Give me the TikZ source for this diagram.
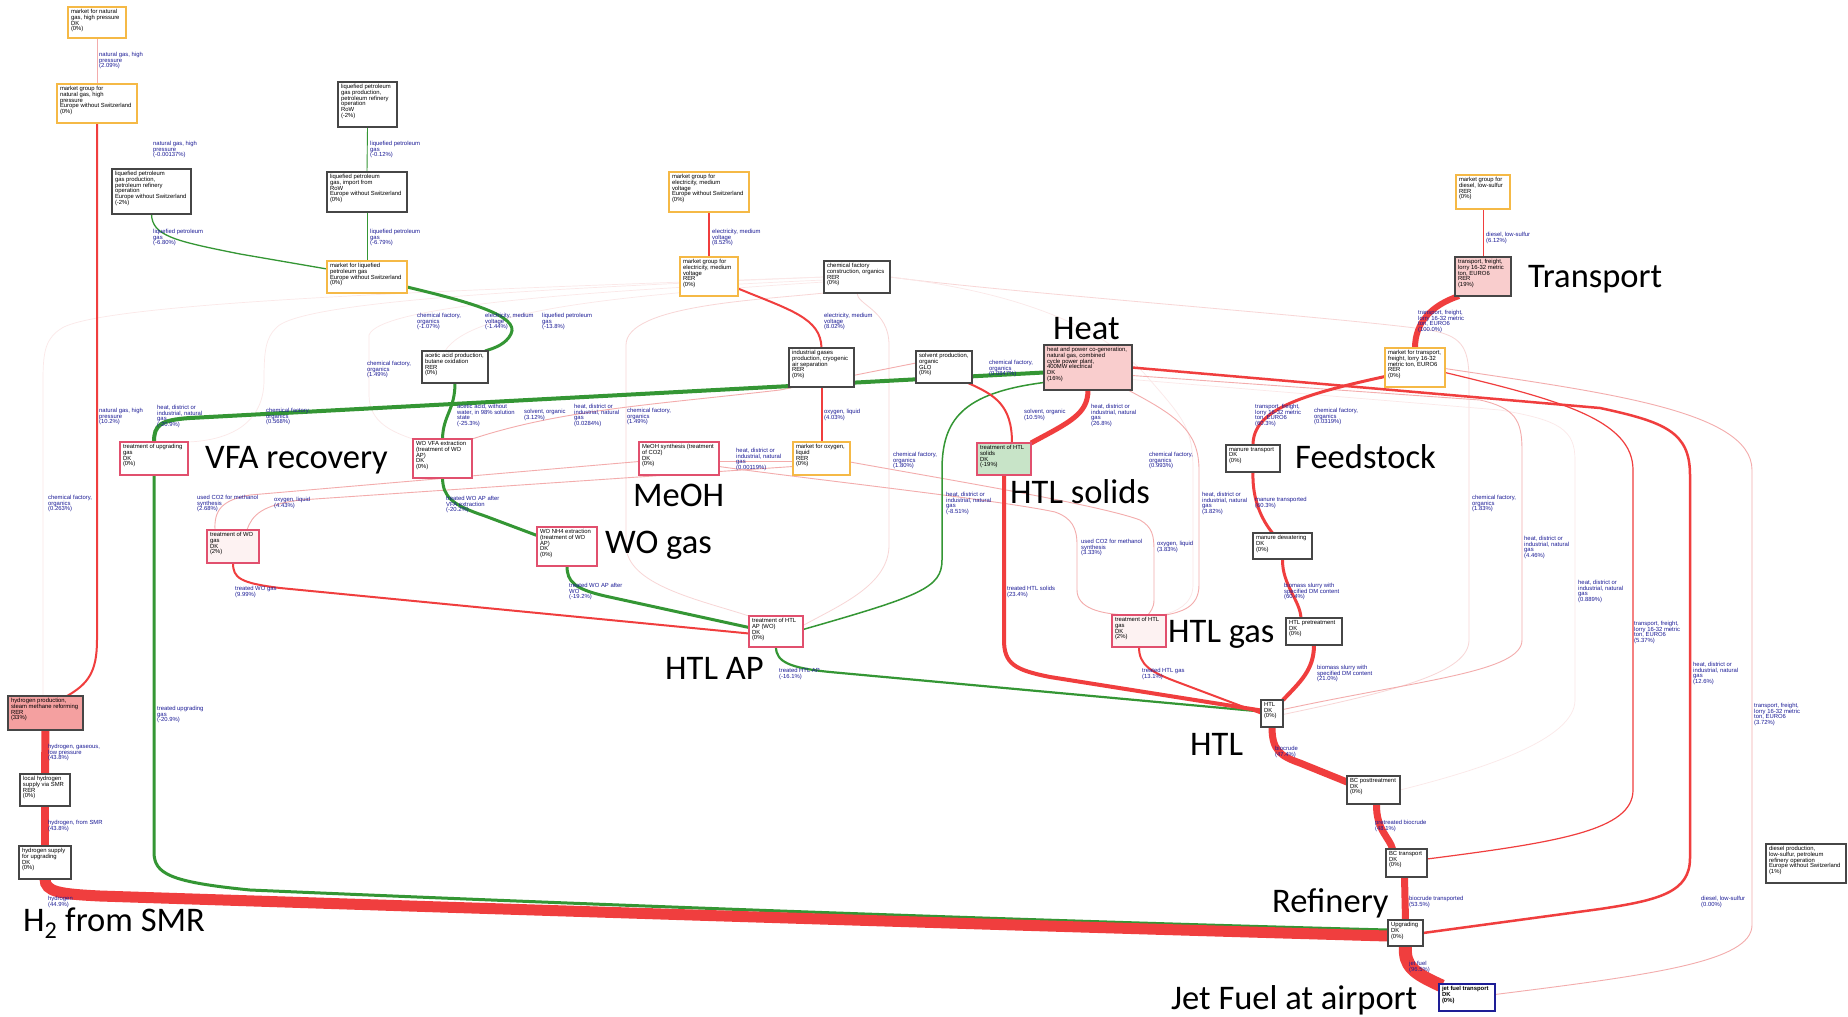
\documentclass[tikz,border=0pt]{standalone}
\usepackage{fontspec}
\setmainfont{Liberation Sans}
\newfontfamily\bigfont{Carlito}
\pgfdeclarelayer{bg}
\pgfsetlayers{bg,main}
\definecolor{ored}{RGB}{240,62,62}
\definecolor{ogreen}{RGB}{52,150,52}
\definecolor{opink}{RGB}{243,172,172}
\definecolor{ofaint}{RGB}{251,232,232}
\definecolor{ofaintp}{RGB}{248,214,214}
\definecolor{oorange}{RGB}{245,185,70}
\definecolor{obord}{RGB}{70,70,70}
\definecolor{ocrim}{RGB}{225,80,110}
\definecolor{osalmon}{RGB}{244,160,160}
\definecolor{olpink}{RGB}{249,205,205}
\definecolor{olgreen}{RGB}{200,228,200}
\definecolor{opale}{RGB}{253,242,242}
\definecolor{olbl}{RGB}{28,28,150}
\definecolor{ojet}{RGB}{30,30,150}
\tikzset{
  bt/.style={font=\fontsize{5.9}{5.7}\selectfont, align=left, inner sep=0pt, anchor=north west, text=black},
  lb/.style={font=\fontsize{5.9}{5.7}\selectfont, align=left, inner sep=0pt, anchor=north west, text=olbl},
  big/.style={font=\bigfont\fontsize{34.5}{36}\selectfont, inner sep=0pt, anchor=base west},
  bxK/.style={draw=obord, line width=1.2pt, fill=white},
  bxO/.style={draw=oorange, line width=1.1pt, fill=white},
  bxP/.style={draw=ocrim, line width=1.1pt, fill=white},
  bxPf/.style={draw=ocrim, line width=1.1pt, fill=opale},
  bxT/.style={draw=obord, line width=1.2pt, fill=olpink},
  bxH/.style={draw=obord, line width=1.2pt, fill=osalmon},
  bxG/.style={draw=ocrim, line width=1.1pt, fill=olgreen},
  bxJ/.style={draw=ojet, line width=1.8pt, fill=white},
  redl/.style={draw=ored},
  grnl/.style={draw=ogreen},
  pinkl/.style={draw=opink, line width=0.9pt},
  fnt/.style={draw=ofaint, line width=0.7pt},
  fntp/.style={draw=ofaintp, line width=0.8pt}
}
\newcommand\mybox[7]{%
  \node[#6, anchor=north west, minimum width={(#4-#2)*1pt}, minimum height={(#5-#3)*1pt}, inner sep=0pt, outer sep=0pt] (#1) at (#2,#3) {};
  \node[bt] (#1t) at ([xshift=2.8pt,yshift=-2.2pt]#1.north west) {#7};}
\begin{document}
\begin{tikzpicture}[x=1pt,y=-1pt]
\useasboundingbox (0,0) rectangle (1848,1017);
% ---------- boxes
\mybox{ngm}{68}{7}{126}{38}{bxO}{market for natural\\gas, high pressure\\DK\\(0\%)}
\mybox{ngg}{57}{84}{137}{123}{bxO}{market group for\\natural gas, high\\pressure\\Europe without Switzerland\\(0\%)}
\mybox{lpgrow}{338}{82}{397}{127}{bxK}{liquefied petroleum\\gas production,\\petroleum refinery\\operation\\RoW\\(-2\%)}
\mybox{lpgimp}{327}{172}{407}{212}{bxK}{liquefied petroleum\\gas, import from\\RoW\\Europe without Switzerland\\(0\%)}
\mybox{lpgmkt}{327}{261}{407}{293}{bxO}{market for liquefied\\petroleum gas\\Europe without Switzerland\\(0\%)}
\mybox{lpgeu}{112}{169}{191}{214}{bxK}{liquefied petroleum\\gas production,\\petroleum refinery\\operation\\Europe without Switzerland\\(-2\%)}
\mybox{elEU}{669}{172}{749}{212}{bxO}{market group for\\electricity, medium\\voltage\\Europe without Switzerland\\(0\%)}
\mybox{elRER}{680}{257}{738}{296}{bxO}{market group for\\electricity, medium\\voltage\\RER\\(0\%)}
\mybox{chemfac}{824}{261}{890}{293}{bxK}{chemical factory\\construction, organics\\RER\\(0\%)}
\mybox{diesel}{1456}{175}{1510}{209}{bxO}{market group for\\diesel, low-sulfur\\RER\\(0\%)}
\mybox{transp}{1455}{257}{1511}{296}{bxT}{transport, freight,\\lorry 16-32 metric\\ton, EURO6\\RER\\(19\%)}
\mybox{acetic}{422}{351}{488}{383}{bxK}{acetic acid production,\\butane oxidation\\RER\\(0\%)}
\mybox{indgas}{789}{348}{854}{387}{bxK}{industrial gases\\production, cryogenic\\air separation\\RER\\(0\%)}
\mybox{solvent}{916}{351}{972}{383}{bxK}{solvent production,\\organic\\GLO\\(0\%)}
\mybox{heat}{1044}{345}{1132}{390}{bxT}{heat and power co-generation,\\natural gas, combined\\cycle power plant,\\400MW electrical\\DK\\(16\%)}
\mybox{mkttr}{1385}{348}{1445}{387}{bxO}{market for transport,\\freight, lorry 16-32\\metric ton, EURO6\\RER\\(0\%)}
\mybox{upgas}{120}{442}{188}{475}{bxP}{treatment of upgrading\\gas\\DK\\(0\%)}
\mybox{wovfa}{413}{439}{472}{478}{bxP}{WO VFA extraction\\(treatment of WO\\AP)\\DK\\(0\%)}
\mybox{meoh}{639}{442}{719}{475}{bxP}{MeOH synthesis (treatment\\of CO2)\\DK\\(0\%)}
\mybox{oxy}{793}{442}{850}{475}{bxO}{market for oxygen,\\liquid\\RER\\(0\%)}
\mybox{htls}{977}{443}{1031}{475}{bxG}{treatment of HTL\\solids\\DK\\(-19\%)}
\mybox{manure}{1226}{445}{1280}{472}{bxK}{manure transport\\DK\\(0\%)}
\mybox{wogas}{207}{530}{259}{563}{bxPf}{treatment of WO\\gas\\DK\\(2\%)}
\mybox{wonh4}{537}{527}{597}{566}{bxP}{WO NH4 extraction\\(treatment of WO\\AP)\\DK\\(0\%)}
\mybox{dewat}{1253}{533}{1312}{559}{bxK}{manure dewatering\\DK\\(0\%)}
\mybox{htlap}{749}{616}{803}{647}{bxP}{treatment of HTL\\AP (WO)\\DK\\(0\%)}
\mybox{htlgas}{1112}{615}{1166}{647}{bxPf}{treatment of HTL\\gas\\DK\\(2\%)}
\mybox{pretr}{1286}{618}{1342}{645}{bxK}{HTL pretreatment\\DK\\(0\%)}
\mybox{h2prod}{8}{696}{83}{730}{bxH}{hydrogen production,\\steam methane reforming\\RER\\(33\%)}
\mybox{htl}{1261}{700}{1283}{727}{bxK}{HTL\\DK\\(0\%)}
\mybox{bcpost}{1347}{776}{1400}{804}{bxK}{BC posttreatment\\DK\\(0\%)}
\mybox{h2loc}{20}{774}{70}{806}{bxK}{local hydrogen\\supply via SMR\\RER\\(0\%)}
\mybox{h2sup}{19}{846}{71}{879}{bxK}{hydrogen supply\\for upgrading\\DK\\(0\%)}
\mybox{bctr}{1386}{849}{1427}{877}{bxK}{BC transport\\DK\\(0\%)}
\mybox{dieselp}{1766}{844}{1846}{883}{bxK}{diesel production,\\low-sulfur, petroleum\\refinery operation\\Europe without Switzerland\\(1\%)}
\mybox{upg}{1388}{920}{1423}{946}{bxK}{Upgrading\\DK\\(0\%)}
\mybox{jet}{1439}{984}{1495}{1011}{bxJ}{\textbf{jet fuel transport}\\\textbf{DK}\\\textbf{(0\%)}}
% ---------- edge labels
\node[lb] (l01) at (99,52) {natural gas, high\\pressure\\(2.09\%)};
\node[lb] (l02) at (153,141) {natural gas, high\\pressure\\(-0.00137\%)};
\node[lb] (l03) at (370,141) {liquefied petroleum\\gas\\(-0.12\%)};
\node[lb] (l04) at (153,229) {liquefied petroleum\\gas\\(-6.80\%)};
\node[lb] (l05) at (370,229) {liquefied petroleum\\gas\\(-6.79\%)};
\node[lb] (l06) at (417,313) {chemical factory,\\organics\\(-1.07\%)};
\node[lb] (l07) at (712,229) {electricity, medium\\voltage\\(8.52\%)};
\node[lb] (l08) at (485,313) {electricity, medium\\voltage\\(-1.44\%)};
\node[lb] (l09) at (542,313) {liquefied petroleum\\gas\\(-13.8\%)};
\node[lb] (l10) at (824,313) {electricity, medium\\voltage\\(8.02\%)};
\node[lb] (l11) at (1486,232) {diesel, low-sulfur\\(6.12\%)};
\node[lb] (l12) at (1418,310) {transport, freight,\\lorry 16-32 metric\\ton, EURO6\\(100.0\%)};
\node[lb] (l13) at (367,361) {chemical factory,\\organics\\(1.49\%)};
\node[lb] (l14) at (99,408) {natural gas, high\\pressure\\(10.2\%)};
\node[lb] (l15) at (157,405) {heat, district or\\industrial, natural\\gas\\(-20.9\%)};
\node[lb] (l16) at (266,408) {chemical factory,\\organics\\(0.568\%)};
\node[lb] (l17) at (457,404) {acetic acid, without\\water, in 98\% solution\\state\\(-25.3\%)};
\node[lb] (l18) at (48,495) {chemical factory,\\organics\\(0.263\%)};
\node[lb] (l19) at (197,495) {used CO2 for methanol\\synthesis\\(2.68\%)};
\node[lb] (l20) at (274,497) {oxygen, liquid\\(4.43\%)};
\node[lb] (l21) at (235,586) {treated WO gas\\(9.99\%)};
\node[lb] (l22) at (446,496) {treated WO AP after\\VFA extraction\\(-20.2\%)};
\node[lb] (l23) at (524,409) {solvent, organic\\(3.12\%)};
\node[lb] (l24) at (574,404) {heat, district or\\industrial, natural\\gas\\(0.0284\%)};
\node[lb] (l25) at (627,408) {chemical factory,\\organics\\(1.49\%)};
\node[lb] (l26) at (824,409) {oxygen, liquid\\(4.03\%)};
\node[lb] (l27) at (736,448) {heat, district or\\industrial, natural\\gas\\(0.00119\%)};
\node[lb] (l28) at (893,452) {chemical factory,\\organics\\(1.80\%)};
\node[lb] (l29) at (569,583) {treated WO AP after\\WO\\(-19.2\%)};
\node[lb] (l30) at (779,668) {treated HTL AP\\(-16.1\%)};
\node[lb] (l31) at (989,360) {chemical factory,\\organics\\(0.0847\%)};
\node[lb] (l32) at (1024,409) {solvent, organic\\(10.5\%)};
\node[lb] (l33) at (1091,404) {heat, district or\\industrial, natural\\gas\\(26.8\%)};
\node[lb] (l34) at (1149,452) {chemical factory,\\organics\\(0.993\%)};
\node[lb] (l35) at (946,492) {heat, district or\\industrial, natural\\gas\\(-8.51\%)};
\node[lb] (l36) at (1202,492) {heat, district or\\industrial, natural\\gas\\(3.82\%)};
\node[lb] (l37) at (1255,404) {transport, freight,\\lorry 16-32 metric\\ton, EURO6\\(60.3\%)};
\node[lb] (l38) at (1314,408) {chemical factory,\\organics\\(0.0319\%)};
\node[lb] (l39) at (1255,497) {manure transported\\(60.3\%)};
\node[lb] (l40) at (1081,539) {used CO2 for methanol\\synthesis\\(3.33\%)};
\node[lb] (l41) at (1157,541) {oxygen, liquid\\(3.83\%)};
\node[lb] (l42) at (1007,586) {treated HTL solids\\(23.4\%)};
\node[lb] (l43) at (1284,583) {biomass slurry with\\specified DM content\\(60.4\%)};
\node[lb] (l44) at (1142,668) {treated HTL gas\\(13.1\%)};
\node[lb] (l45) at (1317,665) {biomass slurry with\\specified DM content\\(21.0\%)};
\node[lb] (l46) at (1472,495) {chemical factory,\\organics\\(1.83\%)};
\node[lb] (l47) at (1524,536) {heat, district or\\industrial, natural\\gas\\(4.46\%)};
\node[lb] (l48) at (1578,580) {heat, district or\\industrial, natural\\gas\\(0.889\%)};
\node[lb] (l49) at (1634,621) {transport, freight,\\lorry 16-32 metric\\ton, EURO6\\(5.37\%)};
\node[lb] (l50) at (1693,662) {heat, district or\\industrial, natural\\gas\\(12.6\%)};
\node[lb] (l51) at (1754,703) {transport, freight,\\lorry 16-32 metric\\ton, EURO6\\(3.72\%)};
\node[lb] (l52) at (1275,746) {biocrude\\(47.4\%)};
\node[lb] (l53) at (1375,820) {pretreated biocrude\\(48.1\%)};
\node[lb] (l54) at (1409,896) {biocrude transported\\(53.5\%)};
\node[lb] (l55) at (1409,961) {jet fuel\\(96.5\%)};
\node[lb] (l56) at (1701,896) {diesel, low-sulfur\\(0.00\%)};
\node[lb] (l57) at (157,706) {treated upgrading\\gas\\(-20.9\%)};
\node[lb] (l58) at (48,744) {hydrogen, gaseous,\\low pressure\\(43.8\%)};
\node[lb] (l59) at (48,820) {hydrogen, from SMR\\(43.8\%)};
\node[lb] (l60) at (48,896) {hydrogen\\(44.9\%)};
% ---------- big annotations
\node[big] (tVFA) at (205,468) {VFA recovery};
\node[big] (tMeOH) at (633,506) {MeOH};
\node[big] (tWO) at (605,553) {WO gas};
\node[big] (tHTLAP) at (665,679) {HTL AP};
\node[big] (tHTLs) at (1010,503) {HTL solids};
\node[big] (tHTLg) at (1168,642) {HTL gas};
\node[big] (tFeed) at (1295,468) {Feedstock};
\node[big] (tHeat) at (1053,339) {Heat};
\node[big] (tTrans) at (1528,287) {Transport};
\node[big] (tHTL) at (1190,755) {HTL};
\node[big] (tRef) at (1272,912) {Refinery};
\node[big] (tJet) at (1171,1009) {Jet Fuel at airport};
\node[big] (tH2) at (23,931) {H\textsubscript{2} from SMR};
% ---------- connectors
\begin{pgfonlayer}{bg}
\fill[white] (0,0) rectangle (1848,1017);
% faint lines
\draw[fnt] (chemfac.west) .. controls (520,288) and (110,300) .. (62,328) .. controls (46,338) and (43,350) .. (43,380) -- ([xshift=-2.5pt]h2prod.north);
\draw[fnt] (chemfac.west) .. controls (560,288) and (300,300) .. (276,328) .. controls (266,338) and (264,350) .. (264,380) .. controls (264,420) and (235,440) .. (upgas.north east);
\draw[fnt] ([yshift=-3pt]chemfac.west) .. controls (600,290) and (380,305) .. (369,335) -- (369,395) .. controls (369,422) and (392,432) .. (wovfa.north west);
\draw[fnt] ([yshift=-5pt]chemfac.west) .. controls (620,295) and (470,310) .. ([xshift=-10pt]acetic.north);
\draw[fntp] (chemfac.south west) .. controls (760,300) and (626,305) .. (626,345) -- (626,545) .. controls (626,585) and (700,600) .. (htlap.north west);
\draw[fntp] (chemfac.south) .. controls (857,305) and (889,310) .. (889,345) -- (889,545) .. controls (889,585) and (840,605) .. ([yshift=6pt]htlap.east);
\draw[fntp] (chemfac.east) .. controls (1000,292) and (1350,318) .. (1430,330) .. controls (1460,336) and (1469,345) .. (1469,380) -- (1469,640) .. controls (1469,672) and (1400,690) .. ([yshift=-1pt]htl.east);
\draw[fnt] (chemfac.east) .. controls (1000,290) and (1100,320) .. (1150,380) .. controls (1185,420) and (1193,430) .. (1193,470) -- (1193,585) .. controls (1193,605) and (1175,612) .. ([xshift=-4pt]htlgas.north east);
\draw[fnt] ([yshift=-12pt]heat.east) -- (1500,410) .. controls (1560,420) and (1575,430) .. (1575,460) -- (1575,700) .. controls (1575,740) and (1480,770) .. (bcpost.east);
% pink lines
\draw[pinkl] (ngm.south) -- (ngg.north);
\draw[pinkl] ([yshift=-8pt]heat.east) -- (1480,400) .. controls (1515,408) and (1522,420) .. (1522,450) -- (1522,640) .. controls (1522,672) and (1420,680) .. ([yshift=4pt]htl.east);
\draw[pinkl] ([yshift=-1pt]mkttr.east) .. controls (1600,392) and (1752,410) .. (1752,470) -- (1752,925) .. controls (1752,962) and (1650,975) .. ([yshift=3pt]jet.east);
\draw[pinkl] ([xshift=-4pt]heat.south east) .. controls (1175,415) and (1199,430) .. (1199,470) -- (1199,585) .. controls (1199,608) and (1180,612) .. (htlgas.north east);
\draw[pinkl] ([yshift=-3.5pt]oxy.east) .. controls (950,480) and (1100,505) .. (1140,520) .. controls (1152,527) and (1154,535) .. (1154,550) -- (1154,600) .. controls (1154,608) and (1150,612) .. ([xshift=9pt]htlgas.north);
\draw[pinkl] ([yshift=-8pt]meoh.east) .. controls (800,478) and (1000,500) .. (1055,512) .. controls (1072,518) and (1077,528) .. (1077,545) -- (1077,590) .. controls (1077,608) and (1100,614) .. ([xshift=-12pt]htlgas.north);
\draw[pinkl] ([yshift=-3pt]meoh.east) -- ([yshift=-3pt]oxy.west);
\draw[pinkl] ([xshift=-18pt]wogas.north) .. controls (214,510) and (222,500) .. (250,495) -- ([yshift=-3pt]meoh.west);
\draw[pinkl] ([xshift=14pt]wogas.north) .. controls (252,515) and (262,505) .. (300,500) -- ([yshift=-8pt]oxy.west);
\draw[pinkl] ([yshift=4pt]solvent.west) -- (780,390) .. controls (650,405) and (560,410) .. (wovfa.north east);
% green lines
\draw[grnl, line width=0.9pt] (lpgrow.south) -- (lpgimp.north);
\draw[grnl, line width=0.9pt] (lpgimp.south) -- (lpgmkt.north);
\draw[grnl, line width=1.3pt] (lpgeu.south) .. controls (152,236) and (175,241) .. (240,254) -- ([yshift=8pt]lpgmkt.west);
\draw[grnl, line width=3pt] ([yshift=-10pt]lpgmkt.east) .. controls (470,302) and (520,316) .. (511,334) .. controls (506,344) and (495,348) .. ([xshift=-3pt]acetic.north east);
\draw[grnl, line width=3pt] (acetic.south) .. controls (455,410) and (443,415) .. (wovfa.north);
\draw[grnl, line width=3pt] (wovfa.south) .. controls (443,497) and (452,505) .. (485,516) -- ([yshift=11pt]wonh4.west);
\draw[grnl, line width=3pt] (wonh4.south) .. controls (567,582) and (575,589) .. (605,596) -- ([yshift=4pt]htlap.west);
\draw[grnl, line width=2.2pt] (htlap.south) .. controls (776,662) and (790,668) .. (830,672) -- ([yshift=2pt]htl.west);
\draw[grnl, line width=4pt] (upgas.north) .. controls (154,425) and (160,420) .. (190,418) -- ([yshift=-5pt]heat.west);
\draw[grnl, line width=3pt] (upgas.south) -- (154,852) .. controls (154,874) and (170,882) .. (250,890) .. controls (600,905) and (1000,920) .. ([yshift=3pt]upg.west);
\draw[grnl, line width=1.5pt] ([yshift=-15pt]heat.west) .. controls (962,393) and (942,420) .. (942,470) -- (942,560) .. controls (942,588) and (920,596) .. ([yshift=2pt]htlap.east);
% red lines
\draw[redl, line width=2pt] (ngg.south) -- (97,640) .. controls (97,672) and (88,684) .. ([xshift=21.5pt]h2prod.north);
\draw[redl, line width=8pt] (h2prod.south) -- (h2loc.north);
\draw[redl, line width=8pt] (h2loc.south) -- (h2sup.north);
\draw[redl, line width=11pt] (h2sup.south) .. controls (45,892) and (60,894) .. (100,896) .. controls (500,909) and (1000,925) .. ([yshift=-3pt]upg.west);
\draw[redl, line width=2pt] (elEU.south) -- (elRER.north);
\draw[redl, line width=2pt] ([yshift=-12pt]elRER.east) .. controls (790,310) and (821,318) .. (indgas.north);
\draw[redl, line width=2pt] (indgas.south) -- (oxy.north);
\draw[redl, line width=5pt] (heat.south) .. controls (1088,414) and (1070,422) .. (htls.north east);
\draw[redl, line width=2pt] ([xshift=-4pt]solvent.south east) .. controls (995,395) and (1012,405) .. ([xshift=8pt]htls.north);
\draw[redl, line width=4pt] (htls.south) -- (1004,640) .. controls (1004,664) and (1015,670) .. (1050,677) -- ([yshift=3pt]htl.west);
\draw[redl, line width=2pt] (wogas.south) .. controls (233,578) and (240,583) .. (280,588) -- ([yshift=-2pt]htlap.west);
\draw[redl, line width=2pt] (htlgas.south) .. controls (1139,665) and (1150,672) .. (1180,683) -- (htl.west);
\draw[redl, line width=4pt] (pretr.south) .. controls (1314,670) and (1300,682) .. (htl.north east);
\draw[redl, line width=3pt] (dewat.south) .. controls (1282,585) and (1300,600) .. ([xshift=-13pt]pretr.north);
\draw[redl, line width=3pt] (manure.south) .. controls (1252,500) and (1262,520) .. ([xshift=-10pt]dewat.north);
\draw[redl, line width=3pt] ([yshift=-9pt]mkttr.west) .. controls (1300,395) and (1253,410) .. (manure.north);
\draw[redl, line width=6pt] ([xshift=4pt]transp.south west) .. controls (1432,305) and (1415,322) .. (mkttr.north);
\draw[redl, line width=1pt] (diesel.south) -- (transp.north);
\draw[redl, line width=2.5pt] (heat.east) -- (1600,408) .. controls (1665,422) and (1690,432) .. (1690,475) -- (1690,858) .. controls (1690,892) and (1660,900) .. (1600,909) -- (upg.east);
\draw[redl, line width=1.2pt] ([yshift=-5pt]mkttr.east) .. controls (1560,400) and (1633,420) .. (1633,470) -- (1633,790) .. controls (1633,830) and (1560,842) .. ([yshift=4pt]bctr.east);
\draw[redl, line width=7pt] (htl.south) .. controls (1272,750) and (1280,756) .. (1300,763) -- ([yshift=8pt]bcpost.west);
\draw[redl, line width=7pt] ([xshift=3pt]bcpost.south) .. controls (1376,830) and (1390,838) .. ([xshift=-14pt]bctr.north);
\draw[redl, line width=7pt] ([xshift=-2pt]bctr.south) -- (upg.north);
\draw[redl, line width=13pt] (upg.south) .. controls (1404,966) and (1413,973) .. ([xshift=3pt,yshift=-2pt]jet.north west);
\end{pgfonlayer}
\end{tikzpicture}
\end{document}
